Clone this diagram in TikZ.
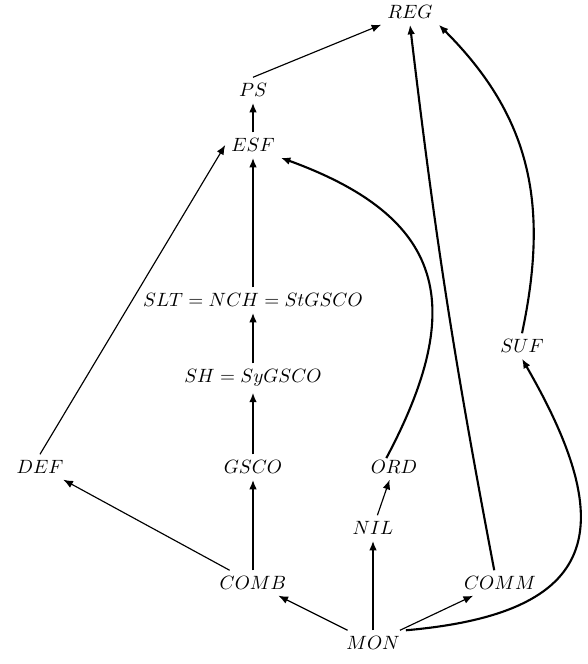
\documentclass[tikz,border=0pt]{standalone}
\usepackage{amsmath}
\usetikzlibrary{arrows.meta}
\usetikzlibrary{calc}

\tikzset{
  cls/.style={inner sep=3pt},
  arr/.style={-{Latex[length=5pt,width=4pt]}, semithick},
  tarr/.style={-{Latex[length=5pt,width=4pt]}, line width=1.1pt},
}

\begin{document}
\begin{tikzpicture}[x=0.52pt, y=-0.52pt]
    \useasboundingbox (0,0) rectangle (587,664);

    % Clases
    \node[cls] (REG)  at (410,12)  {$REG$};
    \node[cls] (PS)   at (253,90)  {$PS$};
    \node[cls] (ESF)  at (253,145) {$ESF$};
    \node[cls] (SLT)  at (253,300) {$SLT = NCH = StGSCO$};
    \node[cls] (SH)   at (253,378) {$SH = SyGSCO$};
    \node[cls] (DEF)  at (40,467)  {$DEF$};
    \node[cls] (GSCO) at (253,467) {$GSCO$};
    \node[cls] (ORD)  at (394,467) {$ORD$};
    \node[cls] (NIL)  at (373,528) {$NIL$};
    \node[cls] (COMB) at (253,583) {$COMB$};
    \node[cls] (COMM) at (500,583) {$COMM$};
    \node[cls] (MON)  at (373,643) {$MON$};
    \node[cls] (SUF)  at (522,346) {$SUF$};

    % Inclusiones rectas
    \draw[arr]  (MON) -- (COMB);
    \draw[tarr] (MON) -- (NIL);
    \draw[arr]  (MON) -- (COMM);
    \draw[arr]  (COMB) -- (DEF);
    \draw[tarr] (COMB) -- (GSCO);
    \draw[tarr] (GSCO) -- (SH);
    \draw[tarr] (SH) -- (SLT);
    \draw[tarr] (SLT) -- (ESF);
    \draw[tarr] (ESF) -- (PS);
    \draw[arr]  (PS.north) -- (REG.south west);
    \draw[arr]  (DEF.north) -- (ESF.west);
    \draw[arr]  (NIL) -- (ORD);

    % Inclusiones curvas
    \draw[tarr] ([xshift=-4pt,yshift=-2pt]ORD.north) to[out=62, in=-20, looseness=1.4] (ESF.south east);
    \draw[tarr] ([xshift=-3pt]COMM.north) to[bend left=2] (REG.south);
    \draw[tarr] (SUF.north) to[out=78, in=-45, looseness=1.05] (REG.south east);
    \draw[tarr] (MON.north east) to[out=5, in=-60, looseness=1.7] (SUF.south);

\end{tikzpicture}
\end{document}
